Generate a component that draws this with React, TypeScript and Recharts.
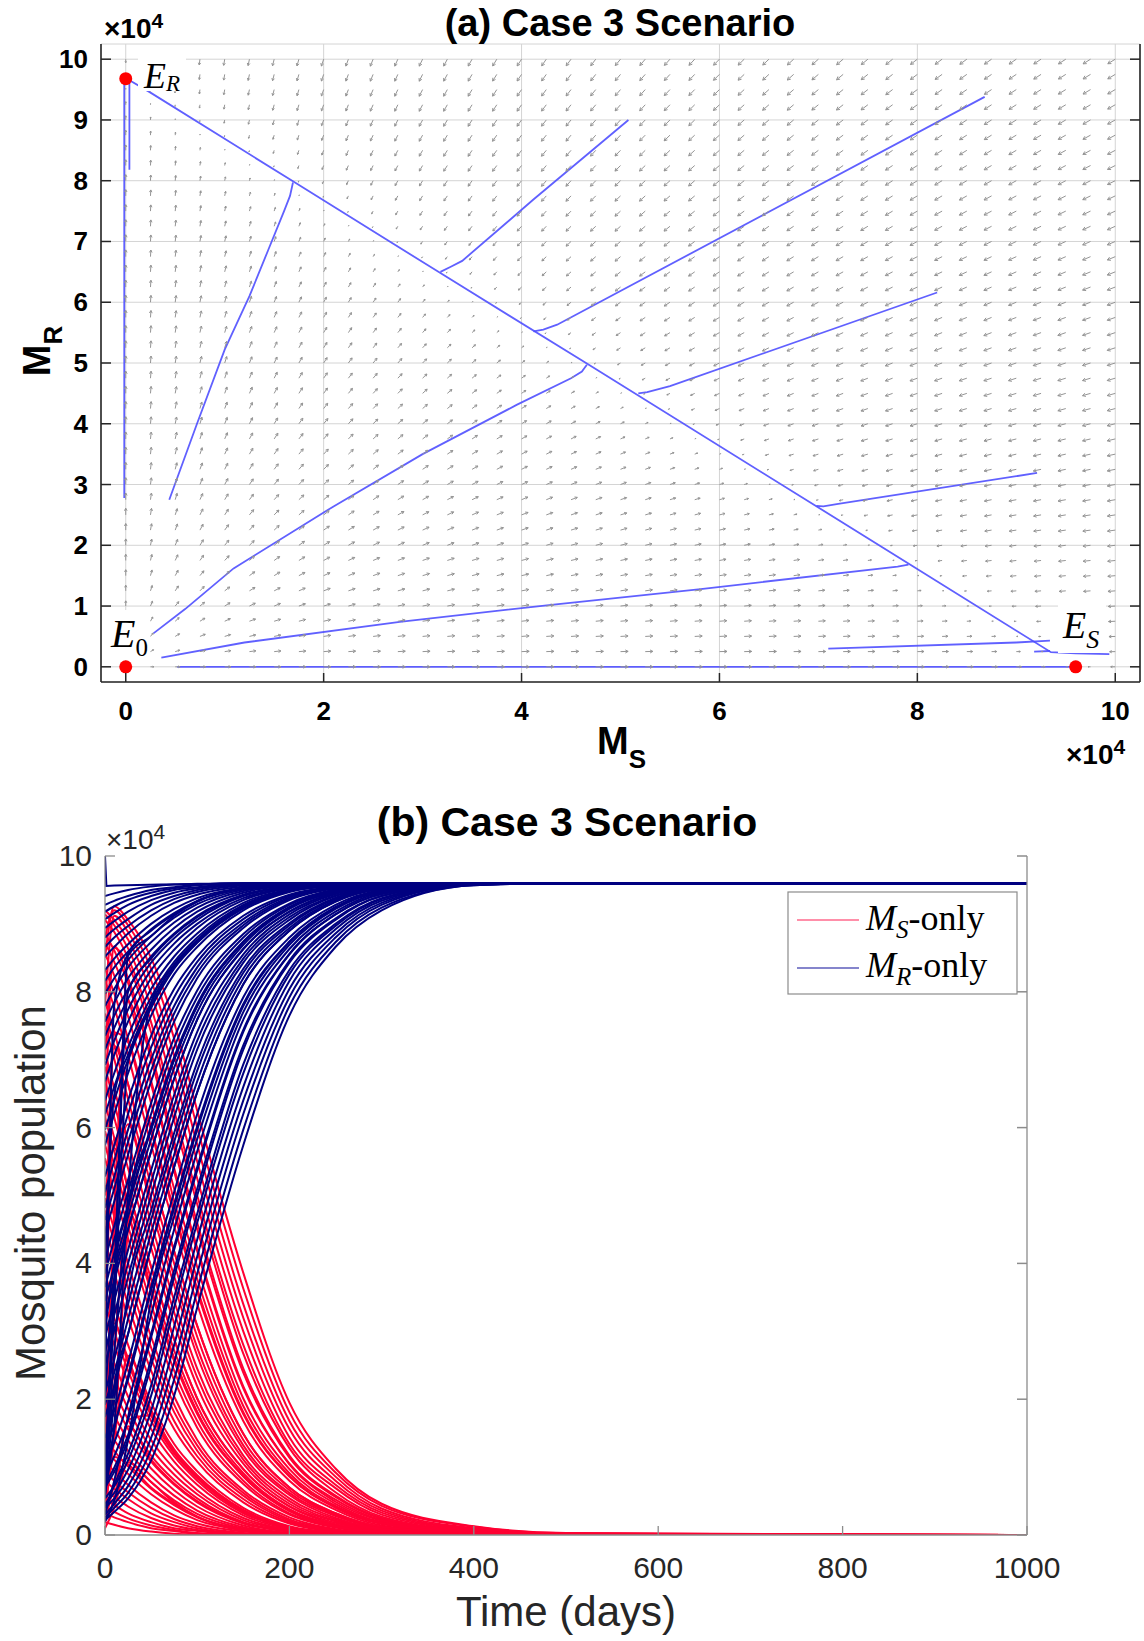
import React from 'react';
import { ComposedChart, LineChart, Line, Scatter, XAxis, YAxis, CartesianGrid } from 'recharts';

const SANS = "'Liberation Sans', Arial, Helvetica, sans-serif";
const SERIF = "'Liberation Serif', 'Times New Roman', serif";
const FRAME_A = '#262626';
const FRAME_B = '#8c8c8c';
const TRAJ_BLUE = '#4f4fff';
const MR_COLOR = '#000080';
const MS_COLOR = '#ff0033';

// ---------- panel (a): phase plane, values in units of 1e4 ----------
const MS_TICKS = [0, 2, 4, 6, 8, 10];
const MR_TICKS = [0, 1, 2, 3, 4, 5, 6, 7, 8, 9, 10];
const QUIVER_GRID = [
  0, 0.25, 0.5, 0.75, 1, 1.25, 1.5, 1.75, 2, 2.25, 2.5, 2.75, 3, 3.25, 3.5, 3.75, 4, 4.25, 4.5, 4.75, 5,
  5.25, 5.5, 5.75, 6, 6.25, 6.5, 6.75, 7, 7.25, 7.5, 7.75, 8, 8.25, 8.5, 8.75, 9, 9.25, 9.5, 9.75, 10,
];
// coexistence line M_S + M_R = K, read from E_S / E_R
const CARRYING = 9.6;

const EQUILIBRIA = [
  { x: 0, y: 9.68 },
  { x: 0, y: 0 },
  { x: 9.6, y: 0 },
];

const TRAJ_MAIN = [[9.94, 0.21], [9.6, 0.22], [9.35, 0.24], [7.95, 1.66], [4.66, 4.99], [3.18, 6.48], [1.69, 7.99], [0.23, 9.47], [0.02, 9.67]];
const TRAJ_AXIS = [[-0.015, 2.78], [-0.015, 9.68]];
const TRAJ_AXIS2 = [[0.037, 8.18], [0.037, 9.6], [0.01, 9.68]];
const TRAJ_C = [[0.44, 2.75], [0.72, 4.0], [1.0, 5.22], [1.25, 6.1], [1.44, 6.86], [1.6, 7.5], [1.66, 7.75], [1.69, 7.97]];
const TRAJ_D = [[5.08, 9.0], [4.12, 7.69], [3.4, 6.68], [3.28, 6.58], [3.18, 6.5]];
const TRAJ_E = [[8.68, 9.38], [4.36, 5.63], [4.22, 5.55], [4.12, 5.52]];
const TRAJ_F = [[8.2, 6.16], [5.5, 4.62], [5.27, 4.52], [5.18, 4.5]];
const TRAJ_G = [[9.21, 3.19], [7.2, 2.68], [7.05, 2.64], [6.98, 2.65]];
const TRAJ_H = [[0.28, 0.55], [0.6, 0.95], [1.09, 1.62], [2.1, 2.64], [3.0, 3.5], [3.95, 4.31], [4.5, 4.75], [4.61, 4.86], [4.66, 4.97]];
const TRAJ_I = [[0.36, 0.15], [1.2, 0.4], [2.77, 0.74], [4.3, 1.02], [5.81, 1.28], [7.8, 1.65], [7.91, 1.68]];
const TRAJ_J = [[0.52, 0], [9.6, 0]];
const TRAJ_K1 = [[7.1, 0.3], [9.0, 0.4], [9.34, 0.43]];
const TRAJ_K2 = [[9.18, 0.25], [9.34, 0.26]];

const TRAJECTORIES = [
  TRAJ_MAIN, TRAJ_AXIS, TRAJ_AXIS2, TRAJ_C, TRAJ_D, TRAJ_E, TRAJ_F, TRAJ_G, TRAJ_H, TRAJ_I, TRAJ_J, TRAJ_K1, TRAJ_K2,
].map((pts) => pts.map(([x, y]) => ({ x, y })));

const QUIVER_POINTS = QUIVER_GRID.flatMap((y) => QUIVER_GRID.map((x) => ({ x, y })));

// ---------- panel (b): time series, values in thousands ----------
const DAY_TICKS = [0, 200, 400, 600, 800, 1000];
const POP_TICKS = [0, 20, 40, 60, 80, 100];
const TIME_DAYS = [0, 10, 25, 50, 75, 100, 150, 200, 250, 300, 400, 500, 1000];

// resistant population M_R, one row per run
const MR_RUNS = [
  [2.2, 3.4, 5.4, 11.0, 20.5, 33.5, 57.4, 76.5, 86.6, 92.0, 95.7, 96, 96],
  [2.6, 4.0, 6.2, 12.6, 22.9, 36.0, 59.7, 77.9, 87.3, 92.4, 95.7, 96, 96],
  [3.0, 4.6, 7.2, 14.3, 25.4, 38.5, 62.0, 79.2, 88.0, 92.8, 95.8, 96, 96],
  [4.0, 5.4, 8.3, 16.2, 28.0, 41.0, 64.0, 80.4, 88.6, 93.1, 95.8, 96, 96],
  [4.6, 6.2, 9.6, 18.3, 30.7, 43.5, 66.0, 81.6, 89.2, 93.4, 95.8, 96, 96],
  [5.4, 7.2, 11.0, 20.5, 33.5, 46.0, 68.0, 82.6, 89.7, 93.65, 95.85, 96, 96],
  [4.0, 7.4, 12.0, 22.0, 35.0, 47.3, 69.3, 83.2, 90.0, 93.8, 95.9, 96, 96],
  [7.4, 9.9, 14.7, 25.9, 39.0, 51.0, 72.1, 84.6, 90.8, 94.1, 95.9, 96, 96],
  [8.8, 11.6, 17.0, 29.1, 42.0, 53.7, 74.1, 85.5, 91.4, 94.4, 95.9, 96, 96],
  [7.0, 9.3, 14.0, 24.9, 38.0, 50.0, 71.5, 84.3, 90.6, 94.1, 95.9, 96, 96],
  [10.4, 13.6, 19.6, 32.4, 45.0, 56.5, 75.9, 86.3, 91.8, 94.6, 95.93, 96, 96],
  [3.0, 8.0, 17.4, 29.6, 42.5, 54.2, 74.4, 85.6, 91.4, 94.4, 95.9, 96, 96],
  [12.6, 16.2, 22.9, 36.0, 48.2, 59.7, 77.9, 87.3, 92.4, 94.85, 95.95, 96, 96],
  [14.3, 18.3, 25.4, 38.5, 50.5, 62.0, 79.2, 88.0, 92.8, 95.0, 96, 96, 96],
  [7.0, 15.5, 23.4, 36.5, 48.7, 60.2, 78.2, 87.4, 92.5, 94.9, 96, 96, 96],
  [17.4, 21.9, 29.6, 42.5, 54.2, 65.2, 81.1, 89.0, 93.3, 95.15, 96, 96, 96],
  [19.2, 23.9, 31.8, 44.5, 56.0, 66.8, 82.0, 89.4, 93.5, 95.25, 96, 96, 96],
  [21.0, 25.9, 34.0, 46.4, 57.9, 68.4, 82.8, 89.8, 93.7, 95.3, 96, 96, 96],
  [2.0, 5.0, 14.0, 34.5, 46.9, 58.3, 77.0, 86.9, 92.2, 94.75, 95.9, 96, 96],
  [7.5, 22.0, 29.6, 42.5, 54.2, 65.2, 81.1, 89.0, 93.3, 95.2, 96, 96, 96],
  [24.9, 30.2, 38.0, 50.0, 61.5, 71.5, 84.3, 90.6, 94.1, 95.4, 96, 96, 96],
  [27.0, 32.4, 40.0, 51.9, 63.2, 72.8, 84.9, 91.0, 94.2, 95.5, 96, 96, 96],
  [29.1, 34.5, 42.0, 53.7, 64.8, 74.1, 85.5, 91.4, 94.4, 95.6, 96, 96, 96],
  [30.0, 40.0, 48.2, 59.7, 70.0, 77.9, 87.3, 92.4, 94.85, 95.6, 96, 96, 96],
  [32.4, 37.5, 45.0, 56.5, 67.2, 75.9, 86.3, 91.8, 94.6, 95.7, 96, 96, 96],
  [5.5, 20.0, 35.5, 47.8, 59.2, 69.6, 83.4, 90.1, 93.85, 95.4, 96, 96, 96],
  [34.5, 39.5, 46.9, 58.3, 68.8, 77.0, 86.9, 92.2, 94.75, 95.7, 96, 96, 96],
  [36.5, 41.5, 48.7, 60.2, 70.4, 78.2, 87.4, 92.5, 94.9, 95.75, 96, 96, 96],
  [20.0, 37.5, 45.0, 56.5, 67.2, 75.9, 86.3, 91.8, 94.6, 95.6, 96, 96, 96],
  [38.5, 43.5, 50.5, 62.0, 71.8, 79.2, 88.0, 92.8, 95.0, 95.8, 96, 96, 96],
  [40.5, 45.5, 52.3, 63.6, 73.2, 80.2, 88.5, 93.0, 95.1, 95.8, 96, 96, 96],
  [8.5, 27.0, 48.2, 59.7, 70.0, 77.9, 87.3, 92.4, 94.85, 95.6, 96, 96, 96],
  [44.5, 49.1, 56.0, 66.8, 75.6, 82.0, 89.4, 93.5, 95.25, 95.85, 96, 96, 96],
  [46.4, 51.0, 57.9, 68.4, 76.8, 82.8, 89.8, 93.7, 95.3, 95.85, 96, 96, 96],
  [48.2, 52.8, 59.7, 70.0, 77.9, 83.6, 90.2, 93.9, 95.4, 95.9, 96, 96, 96],
  [50.5, 55.1, 62.0, 71.8, 79.2, 84.4, 90.7, 94.1, 95.4, 95.9, 96, 96, 96],
  [52.8, 57.4, 64.0, 73.5, 80.4, 85.2, 91.2, 94.3, 95.5, 95.9, 96, 96, 96],
  [9.5, 33.0, 69.6, 77.6, 83.4, 87.2, 92.3, 94.8, 95.6, 95.9, 96, 96, 96],
  [57.4, 62.0, 68.0, 76.5, 82.6, 86.6, 92.0, 94.7, 95.7, 96, 96, 96, 96],
  [59.7, 64.0, 70.0, 77.9, 83.6, 87.3, 92.4, 94.85, 95.7, 96, 96, 96, 96],
  [62.0, 66.0, 71.8, 79.2, 84.4, 88.0, 92.8, 95.0, 95.8, 96, 96, 96, 96],
  [40.0, 64.8, 70.7, 78.4, 84.0, 87.6, 92.6, 94.9, 95.7, 95.95, 96, 96, 96],
  [64.0, 68.0, 73.5, 80.4, 85.2, 88.6, 93.1, 95.1, 95.8, 96, 96, 96, 96],
  [66.8, 70.7, 75.6, 82.0, 86.2, 89.4, 93.5, 95.25, 95.9, 96, 96, 96, 96],
  [6.0, 16.0, 50.0, 78.4, 83.9, 87.6, 92.5, 94.9, 95.6, 95.9, 96, 96, 96],
  [69.2, 72.8, 77.4, 83.2, 87.1, 90.0, 93.8, 95.3, 95.85, 96, 96, 96, 96],
  [71.5, 74.7, 79.0, 84.3, 87.9, 90.6, 94.1, 95.4, 95.9, 96, 96, 96, 96],
  [9.5, 38.0, 80.0, 84.9, 88.4, 91.0, 94.2, 95.5, 95.9, 96, 96, 96, 96],
  [73.5, 76.5, 80.4, 85.2, 88.6, 91.2, 94.3, 95.5, 95.9, 96, 96, 96, 96],
  [75.6, 78.4, 82.0, 86.2, 89.4, 91.8, 94.6, 95.7, 96, 96, 96, 96, 96],
  [77.9, 80.4, 83.6, 87.3, 90.2, 92.4, 94.85, 95.7, 96, 96, 96, 96, 96],
  [20.0, 78.0, 85.6, 89.0, 91.4, 93.3, 95.2, 95.8, 96, 96, 96, 96, 96],
  [79.7, 82.0, 84.7, 88.2, 90.9, 92.9, 95.05, 95.8, 96, 96, 96, 96, 96],
  [81.6, 83.6, 85.9, 89.2, 91.6, 93.4, 95.2, 95.8, 96, 96, 96, 96, 96],
  [83.2, 84.9, 87.0, 90.0, 92.2, 93.8, 95.3, 95.85, 96, 96, 96, 96, 96],
  [8.0, 35.0, 85.3, 88.2, 91.2, 93.3, 95.3, 95.85, 96, 96, 96, 96, 96],
  [85.2, 86.6, 88.6, 91.2, 93.1, 94.3, 95.5, 95.9, 96, 96, 96, 96, 96],
  [86.6, 88.0, 89.7, 92.0, 93.65, 94.7, 95.7, 96, 96, 96, 96, 96, 96],
  [88.0, 89.2, 90.7, 92.8, 94.1, 95.0, 95.8, 96, 96, 96, 96, 96, 96],
  [89.4, 90.4, 91.8, 93.5, 94.6, 95.25, 95.85, 96, 96, 96, 96, 96, 96],
  [90.7, 91.6, 92.8, 94.1, 95.0, 95.4, 95.9, 96, 96, 96, 96, 96, 96],
  [91.8, 92.6, 93.55, 94.6, 95.25, 95.7, 96, 96, 96, 96, 96, 96, 96],
  [92.8, 93.4, 94.1, 95.0, 95.4, 95.8, 96, 96, 96, 96, 96, 96, 96],
  [94.1, 94.5, 95.0, 95.5, 95.8, 95.9, 96, 96, 96, 96, 96, 96, 96],
];

// susceptible population M_S, same runs in the same order
const MS_RUNS = [
  [85, 92.6, 90.6, 85.0, 75.5, 62.5, 38.6, 19.5, 9.8, 4.6, 1.3, 0.3, 0],
  [88, 92.0, 89.8, 83.4, 73.1, 60.0, 36.3, 18.1, 9.2, 4.3, 1.2, 0.25, 0],
  [78, 91.2, 88.8, 81.7, 70.6, 57.5, 34.0, 16.8, 8.6, 3.9, 1.0, 0.2, 0],
  [92.0, 90.6, 87.7, 79.8, 68.0, 55.0, 32.0, 15.6, 8.0, 3.6, 0.9, 0.2, 0],
  [91.4, 89.8, 86.4, 77.7, 65.3, 52.5, 30.0, 14.4, 7.4, 3.3, 0.8, 0.15, 0],
  [90.6, 88.8, 85.0, 75.5, 62.5, 50.0, 28.0, 13.4, 6.9, 3.0, 0.7, 0.1, 0],
  [60, 86.5, 84.0, 74.0, 61.0, 48.7, 26.7, 12.8, 6.3, 2.7, 0.6, 0.1, 0],
  [88.6, 86.1, 81.3, 70.1, 57.0, 45.0, 23.9, 11.4, 5.6, 2.4, 0.5, 0.1, 0],
  [87.2, 84.4, 79.0, 66.9, 54.0, 42.3, 21.9, 10.5, 5.2, 2.2, 0.45, 0.1, 0],
  [70, 86.7, 82.0, 71.1, 58.0, 46.0, 24.5, 11.7, 5.8, 2.5, 0.5, 0.1, 0],
  [85.6, 82.4, 76.4, 63.6, 51.0, 39.5, 20.1, 9.7, 4.6, 1.9, 0.4, 0.05, 0],
  [15, 48, 78.6, 66.4, 53.5, 41.8, 21.6, 10.4, 4.9, 2.1, 0.45, 0.1, 0],
  [83.4, 79.8, 73.1, 60.0, 47.8, 36.3, 18.1, 8.7, 4.1, 1.7, 0.3, 0.05, 0],
  [81.7, 77.7, 70.6, 57.5, 45.5, 34.0, 16.8, 8.0, 3.7, 1.4, 0.2, 0, 0],
  [38, 74, 72.6, 59.5, 47.3, 35.8, 17.8, 8.6, 4.0, 1.6, 0.3, 0.05, 0],
  [78.6, 74.1, 66.4, 53.5, 41.8, 30.8, 14.9, 7.0, 3.2, 1.2, 0.2, 0, 0],
  [76.8, 72.1, 64.2, 51.5, 40.0, 29.2, 14.0, 6.6, 3.0, 1.1, 0.2, 0, 0],
  [75.0, 70.1, 62.0, 49.6, 38.1, 27.6, 13.2, 6.2, 2.8, 1.0, 0.15, 0, 0],
  [6, 15, 45, 61.5, 49.1, 37.7, 19.0, 9.1, 4.3, 1.8, 0.35, 0.05, 0],
  [24, 72, 66.4, 53.5, 41.8, 30.8, 14.9, 7.0, 3.2, 1.2, 0.2, 0, 0],
  [71.1, 65.8, 58.0, 46.0, 34.5, 24.5, 11.7, 5.4, 2.3, 0.85, 0.1, 0, 0],
  [69.0, 63.6, 56.0, 44.1, 32.8, 23.2, 11.1, 5.0, 2.1, 0.8, 0.1, 0, 0],
  [66.9, 61.5, 54.0, 42.3, 31.2, 21.9, 10.5, 4.6, 2.0, 0.7, 0.1, 0, 0],
  [50, 57.0, 47.8, 36.3, 26.0, 18.1, 8.7, 3.6, 1.3, 0.45, 0.05, 0, 0],
  [63.6, 58.5, 51.0, 39.5, 28.8, 20.1, 9.7, 4.2, 1.8, 0.55, 0.05, 0, 0],
  [12, 44, 60.5, 48.2, 36.8, 26.4, 12.6, 5.9, 2.5, 0.9, 0.15, 0, 0],
  [61.5, 56.5, 49.1, 37.7, 27.2, 19.0, 9.1, 3.8, 1.5, 0.5, 0.05, 0, 0],
  [59.5, 54.5, 47.3, 35.8, 25.6, 17.8, 8.6, 3.5, 1.3, 0.4, 0, 0, 0],
  [30, 58.5, 51.0, 39.5, 28.8, 20.1, 9.7, 4.2, 1.6, 0.5, 0.05, 0, 0],
  [57.5, 52.5, 45.5, 34.0, 24.2, 16.8, 8.0, 3.2, 1.2, 0.4, 0, 0, 0],
  [55.5, 50.5, 43.7, 32.4, 22.8, 15.8, 7.5, 3.0, 1.1, 0.3, 0, 0, 0],
  [8, 26, 47.8, 36.3, 26.0, 18.1, 8.7, 3.6, 1.3, 0.45, 0.05, 0, 0],
  [51.5, 46.9, 40.0, 29.2, 20.4, 14.0, 6.6, 2.6, 0.85, 0.2, 0, 0, 0],
  [49.6, 45.0, 38.1, 27.6, 19.2, 13.2, 6.2, 2.3, 0.8, 0.2, 0, 0, 0],
  [47.8, 43.2, 36.3, 26.0, 18.1, 12.4, 5.8, 2.1, 0.6, 0.1, 0, 0, 0],
  [45.5, 40.9, 34.0, 24.2, 16.8, 11.6, 5.3, 1.9, 0.7, 0.15, 0, 0, 0],
  [43.2, 38.6, 32.0, 22.5, 15.6, 10.8, 4.8, 1.7, 0.5, 0.1, 0, 0, 0],
  [4, 14, 26.4, 18.4, 12.6, 8.8, 3.7, 1.2, 0.4, 0.1, 0, 0, 0],
  [38.6, 34.0, 28.0, 19.5, 13.4, 9.4, 4.0, 1.3, 0.3, 0, 0, 0, 0],
  [36.3, 32.0, 26.0, 18.1, 12.4, 8.7, 3.6, 1.15, 0.35, 0.05, 0, 0, 0],
  [34.0, 30.0, 24.2, 16.8, 11.6, 8.0, 3.2, 1.0, 0.2, 0, 0, 0, 0],
  [20, 31.2, 25.3, 17.6, 12.0, 8.4, 3.4, 1.1, 0.3, 0.05, 0, 0, 0],
  [32.0, 28.0, 22.5, 15.6, 10.8, 7.4, 2.9, 0.9, 0.25, 0, 0, 0, 0],
  [29.2, 25.3, 20.4, 14.0, 9.8, 6.6, 2.5, 0.75, 0.1, 0, 0, 0, 0],
  [2, 5.3, 17.0, 17.6, 12.1, 8.4, 3.5, 1.1, 0.4, 0.1, 0, 0, 0],
  [26.8, 23.2, 18.6, 12.8, 8.9, 6.0, 2.2, 0.7, 0.15, 0, 0, 0, 0],
  [24.5, 21.3, 17.0, 11.7, 8.1, 5.4, 1.9, 0.6, 0.1, 0, 0, 0, 0],
  [2, 7.5, 16.0, 11.1, 7.6, 5.0, 1.8, 0.5, 0.1, 0, 0, 0, 0],
  [22.5, 19.5, 15.6, 10.8, 7.4, 4.8, 1.7, 0.5, 0.1, 0, 0, 0, 0],
  [20.4, 17.6, 14.0, 9.8, 6.6, 4.2, 1.4, 0.3, 0, 0, 0, 0, 0],
  [18.1, 15.6, 12.4, 8.7, 5.8, 3.6, 1.15, 0.3, 0, 0, 0, 0, 0],
  [3, 11.5, 10.4, 7.0, 4.6, 2.7, 0.8, 0.2, 0, 0, 0, 0, 0],
  [16.3, 14.0, 11.3, 7.8, 5.1, 3.1, 0.95, 0.2, 0, 0, 0, 0, 0],
  [14.4, 12.4, 10.1, 6.8, 4.4, 2.6, 0.8, 0.2, 0, 0, 0, 0, 0],
  [12.8, 11.1, 9.0, 6.0, 3.8, 2.2, 0.7, 0.1, 0, 0, 0, 0, 0],
  [1, 4, 10.7, 7.8, 4.8, 2.7, 0.7, 0.15, 0, 0, 0, 0, 0],
  [10.8, 9.4, 7.4, 4.8, 2.9, 1.7, 0.5, 0.1, 0, 0, 0, 0, 0],
  [9.4, 8.0, 6.3, 4.0, 2.35, 1.3, 0.3, 0, 0, 0, 0, 0, 0],
  [8.0, 6.8, 5.3, 3.2, 1.9, 1.0, 0.2, 0, 0, 0, 0, 0, 0],
  [6.6, 5.6, 4.2, 2.5, 1.4, 0.75, 0.15, 0, 0, 0, 0, 0, 0],
  [5.3, 4.4, 3.2, 1.9, 1.0, 0.6, 0.1, 0, 0, 0, 0, 0, 0],
  [4.2, 3.4, 2.45, 1.4, 0.75, 0.3, 0, 0, 0, 0, 0, 0, 0],
  [3.2, 2.6, 1.9, 1.0, 0.6, 0.2, 0, 0, 0, 0, 0, 0, 0],
  [1.9, 1.5, 1.0, 0.5, 0.2, 0.1, 0, 0, 0, 0, 0, 0, 0],
];

// run that starts above K and drops straight onto the plateau
const SPIKE_DAYS = [0, 1.5, 10, 60, 200, 1000];
const SPIKE_MR = [100, 95.6, 95.65, 95.8, 96, 96];

const TIME_ROWS = TIME_DAYS.map((t, i) => {
  const row: Record<string, number> = { t };
  MR_RUNS.forEach((run, k) => (row[`r${k}`] = run[i]));
  MS_RUNS.forEach((run, k) => (row[`s${k}`] = run[i]));
  return row;
});
const SPIKE_ROWS = SPIKE_DAYS.map((t, i) => ({ t, v: SPIKE_MR[i] }));

// ---------- marks ----------
const PLOT_A_W = 1039;
const PLOT_A_H = 638;
const DOMAIN_SPAN = 10.5;

const QuiverArrow = (props: any) => {
  const { cx, cy } = props;
  const p = props.payload ?? props;
  if (cx == null || cy == null) return <g />;
  const g = 1 - (p.x + p.y) / CARRYING;
  const u = p.x * g * (PLOT_A_W / DOMAIN_SPAN);
  const v = -p.y * g * (PLOT_A_H / DOMAIN_SPAN);
  const m = Math.hypot(u, v);
  if (!(m > 0.5)) return <g />;
  const len = (9 * m) / (m + 40);
  const ux = u / m;
  const uy = v / m;
  const tx = cx + ux * len;
  const ty = cy + uy * len;
  const h = Math.min(3.6, len * 0.42);
  const a = 0.5;
  const bx = -ux;
  const by = -uy;
  const h1x = tx + h * (bx * Math.cos(a) - by * Math.sin(a));
  const h1y = ty + h * (bx * Math.sin(a) + by * Math.cos(a));
  const h2x = tx + h * (bx * Math.cos(a) + by * Math.sin(a));
  const h2y = ty + h * (-bx * Math.sin(a) + by * Math.cos(a));
  return (
    <path
      d={`M${cx},${cy}L${tx},${ty}M${h1x},${h1y}L${tx},${ty}L${h2x},${h2y}`}
      stroke="#959595"
      strokeWidth={1}
      fill="none"
    />
  );
};

const EquilibriumDot = (props: any) => {
  if (props.cx == null) return <g />;
  return <circle cx={props.cx} cy={props.cy} r={6.5} fill="#ff0000" />;
};

// ---------- ticks ----------
const PhaseXTick = ({ x, y, payload }: any) => (
  <g>
    <line x1={x} y1={y} x2={x} y2={y - 9} stroke={FRAME_A} strokeWidth={1.5} />
    <text x={x} y={y + 38} textAnchor="middle" fontFamily={SANS} fontWeight={700} fontSize={26} fill="#000">
      {payload.value}
    </text>
  </g>
);
const PhaseYTick = ({ x, y, payload }: any) => (
  <g>
    <line x1={x} y1={y} x2={x + 10} y2={y} stroke={FRAME_A} strokeWidth={1.5} />
    <text x={x - 13} y={y + 9} textAnchor="end" fontFamily={SANS} fontWeight={700} fontSize={26} fill="#000">
      {payload.value}
    </text>
  </g>
);
const InTopTick = (color: string) => ({ x, y }: any) => (
  <line x1={x} y1={y} x2={x} y2={y + 9} stroke={color} strokeWidth={1.5} />
);
const InRightTick = (color: string) => ({ x, y }: any) => (
  <line x1={x} y1={y} x2={x - 10} y2={y} stroke={color} strokeWidth={1.5} />
);
const TimeXTick = ({ x, y, payload }: any) => (
  <g>
    <line x1={x} y1={y} x2={x} y2={y - 9} stroke={FRAME_B} strokeWidth={1.3} />
    <text x={x} y={y + 43} textAnchor="middle" fontFamily={SANS} fontSize={30} fill="#262626">
      {payload.value}
    </text>
  </g>
);
const TimeYTick = ({ x, y, payload }: any) => (
  <g>
    <line x1={x} y1={y} x2={x + 10} y2={y} stroke={FRAME_B} strokeWidth={1.3} />
    <text x={x - 13} y={y + 10} textAnchor="end" fontFamily={SANS} fontSize={30} fill="#262626">
      {payload.value / 10}
    </text>
  </g>
);

const PhasePlane = () => {
  const dom: [number, number] = [-0.25, 10.25];
  const axisA = { stroke: FRAME_A, strokeWidth: 1.6 };
  return (
    <ComposedChart width={1144} height={780} margin={{ top: 44, right: 0, bottom: 0, left: 0 }}>
      <CartesianGrid xAxisId="x" yAxisId="y" stroke="#d4d4d4" strokeWidth={1} />
      <XAxis xAxisId="x" dataKey="x" type="number" domain={dom} allowDataOverflow ticks={MS_TICKS} interval={0}
        height={98} tickSize={0} tickMargin={0} tickLine={false} axisLine={axisA} tick={<PhaseXTick />} />
      <XAxis xAxisId="xt" orientation="top" type="number" domain={dom} allowDataOverflow ticks={MS_TICKS} interval={0}
        height={0} tickSize={0} tickMargin={0} tickLine={false} axisLine={axisA} tick={InTopTick(FRAME_A)} />
      <YAxis yAxisId="y" dataKey="y" type="number" domain={dom} allowDataOverflow ticks={MR_TICKS} interval={0}
        width={101} tickSize={0} tickMargin={0} tickLine={false} axisLine={axisA} tick={<PhaseYTick />} />
      <YAxis yAxisId="yr" orientation="right" type="number" domain={dom} allowDataOverflow ticks={MR_TICKS} interval={0}
        width={4} tickSize={0} tickMargin={0} tickLine={false} axisLine={axisA} tick={InRightTick(FRAME_A)} />
      <Scatter xAxisId="x" yAxisId="y" data={QUIVER_POINTS} shape={(p: any) => <QuiverArrow {...p} />} isAnimationActive={false} />
      {TRAJECTORIES.map((pts, i) => (
        <Line key={`traj-${i}`} xAxisId="x" yAxisId="y" data={pts} dataKey="y" type="linear" stroke={TRAJ_BLUE}
          strokeOpacity={0.9} strokeWidth={1.8} dot={false} activeDot={false} isAnimationActive={false} />
      ))}
      <Scatter xAxisId="x" yAxisId="y" data={EQUILIBRIA} shape={(p: any) => <EquilibriumDot {...p} />} isAnimationActive={false} />
    </ComposedChart>
  );
};

const TimeSeries = () => {
  const axisB = { stroke: FRAME_B, strokeWidth: 1.3 };
  return (
    <LineChart width={1144} height={861} data={TIME_ROWS} margin={{ top: 76, right: 0, bottom: 0, left: 0 }}>
      <XAxis dataKey="t" type="number" domain={[0, 1000]} allowDataOverflow ticks={DAY_TICKS} interval={0}
        height={106} tickSize={0} tickMargin={0} tickLine={false} axisLine={axisB} tick={<TimeXTick />} />
      <XAxis xAxisId="top" orientation="top" type="number" domain={[0, 1000]} allowDataOverflow ticks={DAY_TICKS} interval={0}
        height={0} tickSize={0} tickMargin={0} tickLine={false} axisLine={axisB} tick={InTopTick(FRAME_B)} />
      <YAxis type="number" domain={[0, 100]} allowDataOverflow ticks={POP_TICKS} interval={0}
        width={105} tickSize={0} tickMargin={0} tickLine={false} axisLine={axisB} tick={<TimeYTick />} />
      <YAxis yAxisId="right" orientation="right" type="number" domain={[0, 100]} allowDataOverflow ticks={POP_TICKS} interval={0}
        width={117} tickSize={0} tickMargin={0} tickLine={false} axisLine={axisB} tick={InRightTick(FRAME_B)} />
      {MS_RUNS.map((_, k) => (
        <Line key={`s${k}`} dataKey={`s${k}`} type="monotone" stroke={MS_COLOR} strokeWidth={2} dot={false} activeDot={false} isAnimationActive={false} />
      ))}
      {MR_RUNS.map((_, k) => (
        <Line key={`r${k}`} dataKey={`r${k}`} type="monotone" stroke={MR_COLOR} strokeWidth={2} dot={false} activeDot={false} isAnimationActive={false} />
      ))}
      <Line data={SPIKE_ROWS} dataKey="v" type="linear" stroke={MR_COLOR} strokeWidth={2} dot={false} activeDot={false} isAnimationActive={false} />
    </LineChart>
  );
};

const Overlay = () => (
  <svg width={1144} height={1641} style={{ position: 'absolute', left: 0, top: 0, pointerEvents: 'none' }}>
    {/* panel (a) */}
    <text x={620} y={36} textAnchor="middle" fontFamily={SANS} fontWeight={700} fontSize={38} fill="#000">(a) Case 3 Scenario</text>
    <text x={104} y={38} fontFamily={SANS} fontWeight={700} fontSize={28} fill="#000">
      ×10<tspan dy={-10} fontSize={21}>4</tspan>
    </text>
    <text x={1066} y={764} fontFamily={SANS} fontWeight={700} fontSize={28} fill="#000">
      ×10<tspan dy={-10} fontSize={21}>4</tspan>
    </text>
    <text x={597} y={754} fontFamily={SANS} fontWeight={700} fontSize={38} fill="#000">
      M<tspan dy={14} fontSize={26}>S</tspan>
    </text>
    <text x={50} y={351} transform="rotate(-90 50 351)" textAnchor="middle" fontFamily={SANS} fontWeight={700} fontSize={38} fill="#000">
      M<tspan dy={12} fontSize={26}>R</tspan>
    </text>
    <rect x={138} y={46} width={48} height={45} fill="#fff" />
    <text x={144} y={88} fontFamily={SERIF} fontStyle="italic" fontSize={36} fill="#000">
      E<tspan dy={3} fontSize={23}>R</tspan>
    </text>
    <rect x={108} y={610} width={42} height={50} fill="#fff" />
    <text x={111} y={647} fontFamily={SERIF} fontStyle="italic" fontSize={40} fill="#000">
      E<tspan dy={9} fontSize={25} fontStyle="normal">0</tspan>
    </text>
    <rect x={1058} y={600} width={48} height={53} fill="#fff" />
    <text x={1063} y={638} fontFamily={SERIF} fontStyle="italic" fontSize={38} fill="#000">
      E<tspan dy={10} fontSize={26}>S</tspan>
    </text>

    {/* panel (b) */}
    <text x={567} y={836} textAnchor="middle" fontFamily={SANS} fontWeight={700} fontSize={41} fill="#000">(b) Case 3 Scenario</text>
    <text x={106} y={849} fontFamily={SANS} fontSize={28} fill="#262626">
      ×10<tspan dy={-10} fontSize={21}>4</tspan>
    </text>
    <text x={566} y={1626} textAnchor="middle" fontFamily={SANS} fontSize={42} fill="#262626">Time (days)</text>
    <text x={45} y={1193} transform="rotate(-90 45 1193)" textAnchor="middle" fontFamily={SANS} fontSize={42} fill="#262626">
      Mosquito population
    </text>
    <rect x={788} y={892} width={229} height={102} fill="#fff" stroke="#8c8c8c" strokeWidth={1.2} />
    <line x1={797} y1={920} x2={859} y2={920} stroke="#ff8fa9" strokeWidth={2} />
    <line x1={797} y1={968} x2={859} y2={968} stroke="#8585cc" strokeWidth={2} />
    <text x={866} y={930} fontFamily={SERIF} fontSize={36} fill="#000">
      <tspan fontStyle="italic">M</tspan>
      <tspan dy={8} fontSize={25} fontStyle="italic">S</tspan>
      <tspan dy={-8}>-only</tspan>
    </text>
    <text x={866} y={977} fontFamily={SERIF} fontSize={36} fill="#000">
      <tspan fontStyle="italic">M</tspan>
      <tspan dy={8} fontSize={25} fontStyle="italic">R</tspan>
      <tspan dy={-8}>-only</tspan>
    </text>
  </svg>
);

export default function App() {
  return (
    <div style={{ position: 'absolute', left: 0, top: 0, width: 1144, height: 1641, background: '#fff', overflow: 'hidden' }}>
      <div style={{ position: 'absolute', left: 0, top: 0 }}>
        <PhasePlane />
      </div>
      <div style={{ position: 'absolute', left: 0, top: 780 }}>
        <TimeSeries />
      </div>
      <Overlay />
    </div>
  );
}
